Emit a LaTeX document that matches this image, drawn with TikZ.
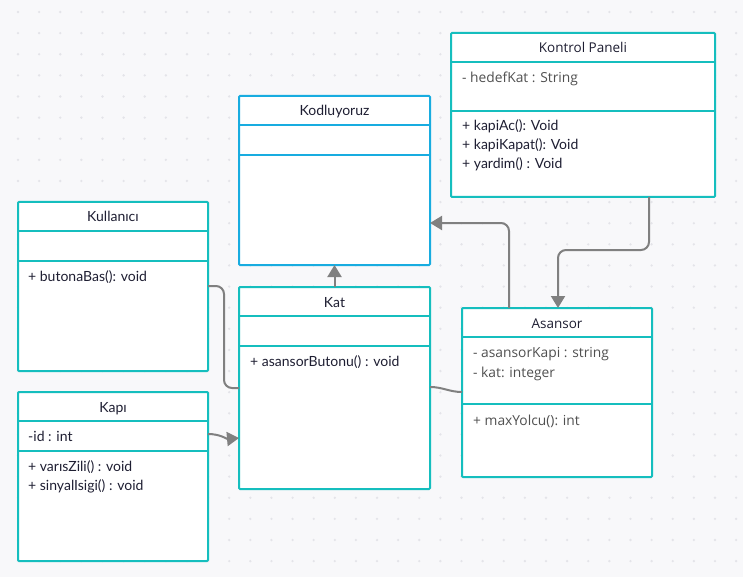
\documentclass[tikz,border=0pt]{standalone}
\usepackage{fontspec}
\setmainfont{Lato}
\newfontfamily\opensans{Open Sans}
\usetikzlibrary{arrows.meta,calc}

\definecolor{umlteal}{RGB}{21,190,190}
\definecolor{umlblue}{RGB}{24,172,224}
\definecolor{lineg}{RGB}{128,128,128}
\definecolor{bgc}{RGB}{248,248,250}
\definecolor{dotg}{RGB}{228,228,233}
\definecolor{ink}{RGB}{30,30,50}
\definecolor{greyink}{RGB}{80,80,80}

\begin{document}
\begin{tikzpicture}[x=1pt, y=-1pt,
    classbox/.style = {draw=umlteal, line width=2pt, fill=white, rounded corners=1pt,
                       anchor=north west, inner sep=0pt, outer sep=0pt},
    sep/.style = {draw=umlteal, line width=2pt},
    classname/.style = {anchor=base, inner sep=0pt, text=ink, font=\fontsize{14}{16}\selectfont},
    member/.style = {anchor=base west, inner sep=0pt, text=ink, font=\fontsize{14}{16}\selectfont},
    greymember/.style = {member, text=greyink, font=\opensans\fontsize{13.8}{16}\selectfont},
    link/.style = {draw=lineg, line width=2pt, rounded corners=8pt},
    tip/.style = {-{Triangle[length=12pt,width=14pt]}}]

    % background and dot grid
    \fill[bgc] (0,0) rectangle (743,577);
    \useasboundingbox (0,0) rectangle (743,577);
    \foreach \i in {0,...,34}
        \foreach \j in {0,...,26}
            \fill[dotg] (18+21.12*\i, 12+21.12*\j) circle (1.3pt);

    % Kodluyoruz
    \node[classbox, draw=umlblue, minimum width=191, minimum height=169] (kod) at (239,96) {};
    \node[classname] (kodN) at ($(kod.north)+(0,20)$) {Kodluyoruz};
    \draw[sep, draw=umlblue] ($(kod.north west)+(0,29)$) -- ($(kod.north east)+(0,29)$);
    \draw[sep, draw=umlblue] ($(kod.north west)+(0,59)$) -- ($(kod.north east)+(0,59)$);

    % Kat
    \node[classbox, minimum width=191, minimum height=202] (kat) at (239,287) {};
    \node[classname] (katN) at ($(kat.north)+(0,20)$) {Kat};
    \draw[sep] ($(kat.north west)+(0,29)$) -- ($(kat.north east)+(0,29)$);
    \draw[sep] ($(kat.north west)+(0,59)$) -- ($(kat.north east)+(0,59)$);
    \node[member] (katM1) at ($(kat.north west)+(11,79)$) {+ asansorButonu() : void};

    % Kullanici
    \node[classbox, minimum width=190, minimum height=169] (kul) at (18,202) {};
    \node[classname] (kulN) at ($(kul.north)+(0,20)$) {Kullanıcı};
    \draw[sep] ($(kul.north west)+(0,29)$) -- ($(kul.north east)+(0,29)$);
    \draw[sep] ($(kul.north west)+(0,59)$) -- ($(kul.north east)+(0,59)$);
    \node[member] (kulM1) at ($(kul.north west)+(10,79)$) {+ butonaBas(): void};

    % Kapi
    \node[classbox, minimum width=190, minimum height=169] (kapi) at (18,392) {};
    \node[classname] (kapiN) at ($(kapi.north)+(0,20)$) {Kapı};
    \draw[sep] ($(kapi.north west)+(0,29)$) -- ($(kapi.north east)+(0,29)$);
    \draw[sep] ($(kapi.north west)+(0,59)$) -- ($(kapi.north east)+(0,59)$);
    \node[member] (kapiA1) at ($(kapi.north west)+(10,49)$) {-id : int};
    \node[member] (kapiM1) at ($(kapi.north west)+(10,79)$) {+ varısZili() : void};
    \node[member] (kapiM2) at ($(kapi.north west)+(10,98)$) {+ sinyalIsigi() : void};

    % Kontrol Paneli
    \node[classbox, minimum width=264, minimum height=164] (kp) at (451,33) {};
    \node[classname, font=\opensans\fontsize{13.5}{16}\selectfont] (kpN) at ($(kp.north)+(0,20)$) {Kontrol Paneli};
    \draw[sep] ($(kp.north west)+(0,29)$) -- ($(kp.north east)+(0,29)$);
    \draw[sep] ($(kp.north west)+(0,78)$) -- ($(kp.north east)+(0,78)$);
    \node[greymember] (kpA1) at ($(kp.north west)+(11,50)$) {- hedefKat : String};
    \node[member] (kpM1) at ($(kp.north west)+(11,98)$) {+ kapiAc(): Void};
    \node[member] (kpM2) at ($(kp.north west)+(11,117)$) {+ kapiKapat(): Void};
    \node[member] (kpM3) at ($(kp.north west)+(11,136)$) {+ yardim() : Void};

    % Asansor
    \node[classbox, minimum width=190, minimum height=169] (asa) at (462,308) {};
    \node[classname, font=\opensans\fontsize{13.5}{16}\selectfont] (asaN) at ($(asa.north)+(0,20)$) {Asansor};
    \draw[sep] ($(asa.north west)+(0,29)$) -- ($(asa.north east)+(0,29)$);
    \draw[sep] ($(asa.north west)+(0,96)$) -- ($(asa.north east)+(0,96)$);
    \node[greymember] (asaA1) at ($(asa.north west)+(11,49)$) {- asansorKapi : string};
    \node[greymember] (asaA2) at ($(asa.north west)+(11,69)$) {- kat: integer};
    \node[greymember] (asaM1) at ($(asa.north west)+(11,117)$) {+ maxYolcu(): int};

    % connectors
    \draw[link, tip] (kat.north) -- (kod.south);
    \draw[link, tip] ($(asa.north west)+(47,0)$) |- ($(kod.north east)+(0,127)$);
    \draw[link, tip] ($(kp.south west)+(198,0)$) -- ++(0,53) -| ($(asa.north west)+(96,0)$);
    \draw[link] ($(kul.north east)+(0,84)$) -- ++(16,0) |- ($(kat.north west)+(0,101)$);
    \draw[link, tip] ($(kapi.north east)+(0,42)$) to[out=0, in=185] ($(kat.north west)+(0,151)$);
    \draw[link] ($(kat.north east)+(0,100)$) to[out=0, in=180] ($(asa.north west)+(0,84)$);
\end{tikzpicture}
\end{document}
